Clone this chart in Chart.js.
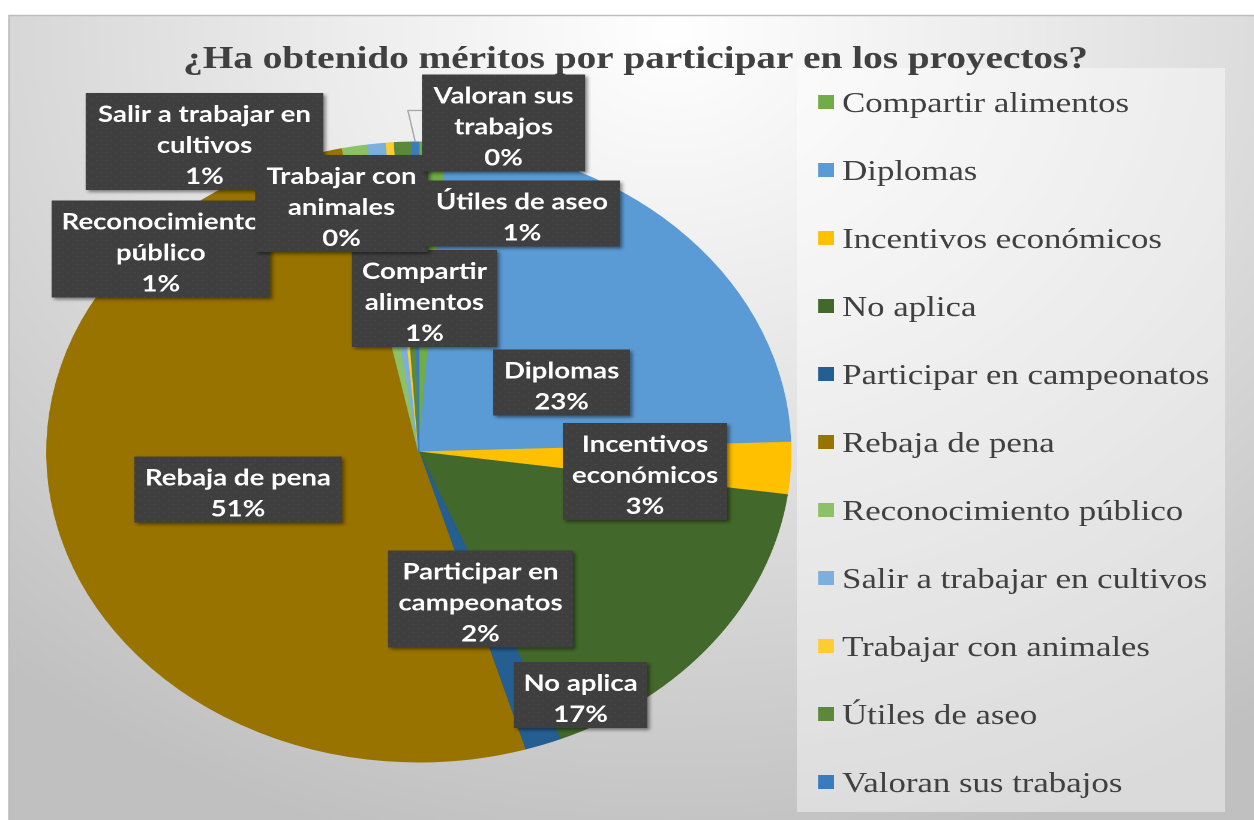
<!DOCTYPE html>
<html>
<head>
<meta charset="utf-8">
<script src="https://cdn.jsdelivr.net/npm/chart.js@4.4.1/dist/chart.umd.min.js"></script>
<style>
  html, body { margin: 0; padding: 0; background: #ffffff; overflow: hidden; }
  #wrap { width: 1254px; height: 820px; position: relative; overflow: hidden; }
  /* the source picture is stretched sideways, so the whole canvas is too */
  #chart { position: absolute; left: 0; top: 0; transform: scaleX(1.2); transform-origin: 0 0; }
</style>
</head>
<body>
<div id="wrap"><canvas id="chart" width="1045" height="820"></canvas></div>
<script>
var chartTitle = '¿Ha obtenido méritos por participar en los proyectos?';

var categories = [
    'Compartir alimentos', 'Diplomas', 'Incentivos económicos', 'No aplica',
    'Participar en campeonatos', 'Rebaja de pena', 'Reconocimiento público',
    'Salir a trabajar en cultivos', 'Trabajar con animales', 'Útiles de aseo',
    'Valoran sus trabajos'
];

// share of answers (%)
var values = [1.2, 23.3, 2.7, 16.6, 1.6, 51.3, 1.1, 0.8, 0.35, 0.75, 0.3];

var colours = ['#70AD47', '#5B9BD5', '#FFC000', '#43682B', '#255E91', '#997300',
               '#8CC168', '#7CAFDD', '#FFCD33', '#5A8A39', '#3A7BC0'];

// data label boxes: centre x, centre y, width (canvas units, before the stretch)
var labelBoxes = [
    [353.7, 298.5, 121], [468, 382.5, 114], [537.5, 471.5, 137], [483.8, 695, 111],
    [400.4, 599, 154], [198.3, 489.5, 173], [134, 249, 182], [170.4, 141.5, 198],
    [284.6, 203.5, 144], [435, 213.5, 163], [419.6, 123, 136]
];
// only this label gets a leader line back to its slice
var leaderFor = 'Valoran sus trabajos';

var W = 1045, H = 820;

function wrapText(ctx, text, maxWidth) {
    var words = text.split(' ');
    var lines = [];
    var line = words[0];
    for (var i = 1; i < words.length; i++) {
        var test = line + ' ' + words[i];
        if (ctx.measureText(test).width > maxWidth) {
            lines.push(line);
            line = words[i];
        } else {
            line = test;
        }
    }
    lines.push(line);
    return lines;
}

var decor = {
    id: 'decor',
    beforeDraw: function(chart) {
        var ctx = chart.ctx;
        ctx.save();

        // page + chart background
        ctx.fillStyle = '#ffffff';
        ctx.fillRect(0, 0, W, H);
        var g = ctx.createRadialGradient(560, 30, 0, 560, 30, 850);
        g.addColorStop(0, '#ffffff');
        g.addColorStop(0.35, '#ebebeb');
        g.addColorStop(1, '#c0c0c0');
        ctx.fillStyle = g;
        ctx.fillRect(7, 15, W - 7, H - 15);
        ctx.strokeStyle = '#bdbdbd';
        ctx.lineWidth = 1.5;
        ctx.strokeRect(7.5, 15.5, W, H);

        // legend panel
        ctx.fillStyle = 'rgba(255,255,255,0.42)';
        ctx.fillRect(664, 68, 357, 744);

        // title
        ctx.font = 'bold 32px "Liberation Serif", "Times New Roman", serif';
        var tw = ctx.measureText(chartTitle).width;
        ctx.translate(529.6, 68);
        ctx.scale(754 / tw, 1);
        ctx.fillStyle = '#404040';
        ctx.textAlign = 'center';
        ctx.textBaseline = 'alphabetic';
        ctx.fillText(chartTitle, 0, 0);
        ctx.setTransform(chart.currentDevicePixelRatio, 0, 0, chart.currentDevicePixelRatio, 0, 0);

        // legend
        ctx.font = '29px "Liberation Serif", "Times New Roman", serif';
        ctx.textAlign = 'left';
        for (var i = 0; i < categories.length; i++) {
            var y = 102 + i * 68;
            ctx.fillStyle = colours[i];
            ctx.fillRect(681.7, y - 7, 13.3, 14);
            ctx.fillStyle = '#404040';
            ctx.fillText(categories[i], 701.7, y + 10);
        }
        ctx.restore();
    },
    afterDatasetsDraw: function(chart) {
        var ctx = chart.ctx;
        var meta = chart.getDatasetMeta(0);
        var data = chart.data.datasets[0].data;
        var total = data.reduce(function(a, b) { return a + b; }, 0);

        // dotted fill of the label boxes
        var pc = document.createElement('canvas');
        pc.width = 8; pc.height = 8;
        var p = pc.getContext('2d');
        p.fillStyle = '#3f3f3f';
        p.fillRect(0, 0, 8, 8);
        p.fillStyle = '#505050';
        p.fillRect(0, 0, 1, 1);
        p.fillRect(4, 4, 1, 1);
        var boxFill = ctx.createPattern(pc, 'repeat');

        ctx.save();
        ctx.font = 'bold 23px Lato, "Open Sans", sans-serif';
        for (var i = 0; i < data.length; i++) {
            var b = labelBoxes[i];
            var lines = wrapText(ctx, chart.data.labels[i], b[2] - 4);
            lines.push(Math.round(data[i] / total * 100) + '%');
            var h = lines.length * 31 + 4;
            var x0 = b[0] - b[2] / 2;
            var y0 = b[1] - h / 2;

            if (chart.data.labels[i] === leaderFor) {
                var arc = meta.data[i];
                var mid = (arc.startAngle + arc.endAngle) / 2;
                var px = arc.x + Math.cos(mid) * arc.outerRadius;
                var py = arc.y + Math.sin(mid) * arc.outerRadius;
                ctx.strokeStyle = '#a6a6a6';
                ctx.lineWidth = 1.2;
                ctx.beginPath();
                ctx.moveTo(x0, y0 + 36);
                ctx.lineTo(x0 - 11.7, y0 + 36);
                ctx.lineTo(px, py);
                ctx.stroke();
            }

            ctx.shadowColor = 'rgba(0,0,0,0.45)';
            ctx.shadowBlur = 6;
            ctx.shadowOffsetX = 4;
            ctx.shadowOffsetY = 4;
            ctx.fillStyle = boxFill;
            ctx.fillRect(x0, y0, b[2], h);
            ctx.shadowColor = 'rgba(0,0,0,0)';

            ctx.fillStyle = '#ffffff';
            ctx.textAlign = 'center';
            ctx.textBaseline = 'middle';
            for (var j = 0; j < lines.length; j++) {
                ctx.fillText(lines[j], b[0], y0 + 6 + 15.5 + j * 31);
            }
        }
        ctx.restore();
    }
};

var ctx = document.getElementById('chart');
var myPieChart = new Chart(ctx, {
    type: 'pie',
    data: {
        labels: categories,
        datasets: [{
            data: values,
            backgroundColor: colours,
            borderColor: colours,
            borderWidth: 1,
            hoverOffset: 0
        }]
    },
    options: {
        responsive: false,
        animation: false,
        devicePixelRatio: 2,
        events: [],
        radius: 310,
        layout: { padding: { left: 0, right: 347, top: 84, bottom: 0 } },
        plugins: {
            legend: { display: false },
            tooltip: { enabled: false }
        }
    },
    plugins: [decor]
});
</script>
</body>
</html>
